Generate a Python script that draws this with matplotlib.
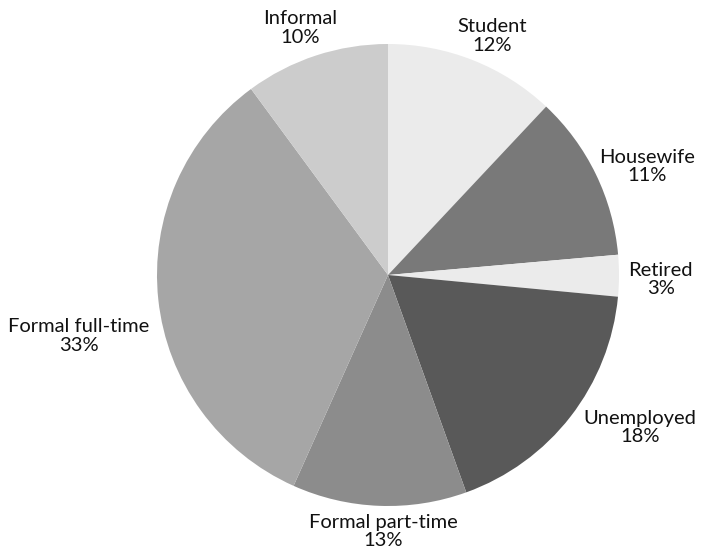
import matplotlib
matplotlib.use("Agg")
import matplotlib.pyplot as plt
import numpy as np

# Shares measured from the slice angles; labels carry the printed percentages
categories = ["Student", "Housewife", "Retired", "Unemployed",
              "Formal part-time", "Formal full-time", "Informal"]
shares = [12.0, 11.6, 2.9, 18.0, 12.2, 33.2, 10.1]
pct_labels = ["12%", "11%", "3%", "18%", "13%", "33%", "10%"]
colors = ["#ebebeb", "#797979", "#ebebeb", "#595959",
          "#8c8c8c", "#a6a6a6", "#cccccc"]

# label centres in pie-radius units (relative to pie centre)
label_pos = [(0.45, 1.035), (1.12, 0.47), (1.18, -0.02), (1.09, -0.66),
             (-0.02, -1.11), (-1.34, -0.265), (-0.38, 1.07)]

W, H = 702, 555
CX, CY, R = 388, 275, 231

fig = plt.figure(figsize=(W / 100, H / 100), dpi=100)
ax = fig.add_axes([0, 0, 1, 1])
ax.pie(shares, colors=colors, startangle=90, counterclock=False,
       radius=1.0, wedgeprops={"linewidth": 0})
ax.set_xlim(-CX / R, (W - CX) / R)
ax.set_ylim(-(H - CY) / R, CY / R)
ax.set_aspect("equal")
ax.axis("off")

for cat, pct, (x, y) in zip(categories, pct_labels, label_pos):
    ax.text(x, y, f"{cat}\n{pct}", ha="center", va="center",
            multialignment="center", fontsize=14.5, family="Lato",
            color="#111111", linespacing=1.12)

fig.savefig("out.png", dpi=100)
